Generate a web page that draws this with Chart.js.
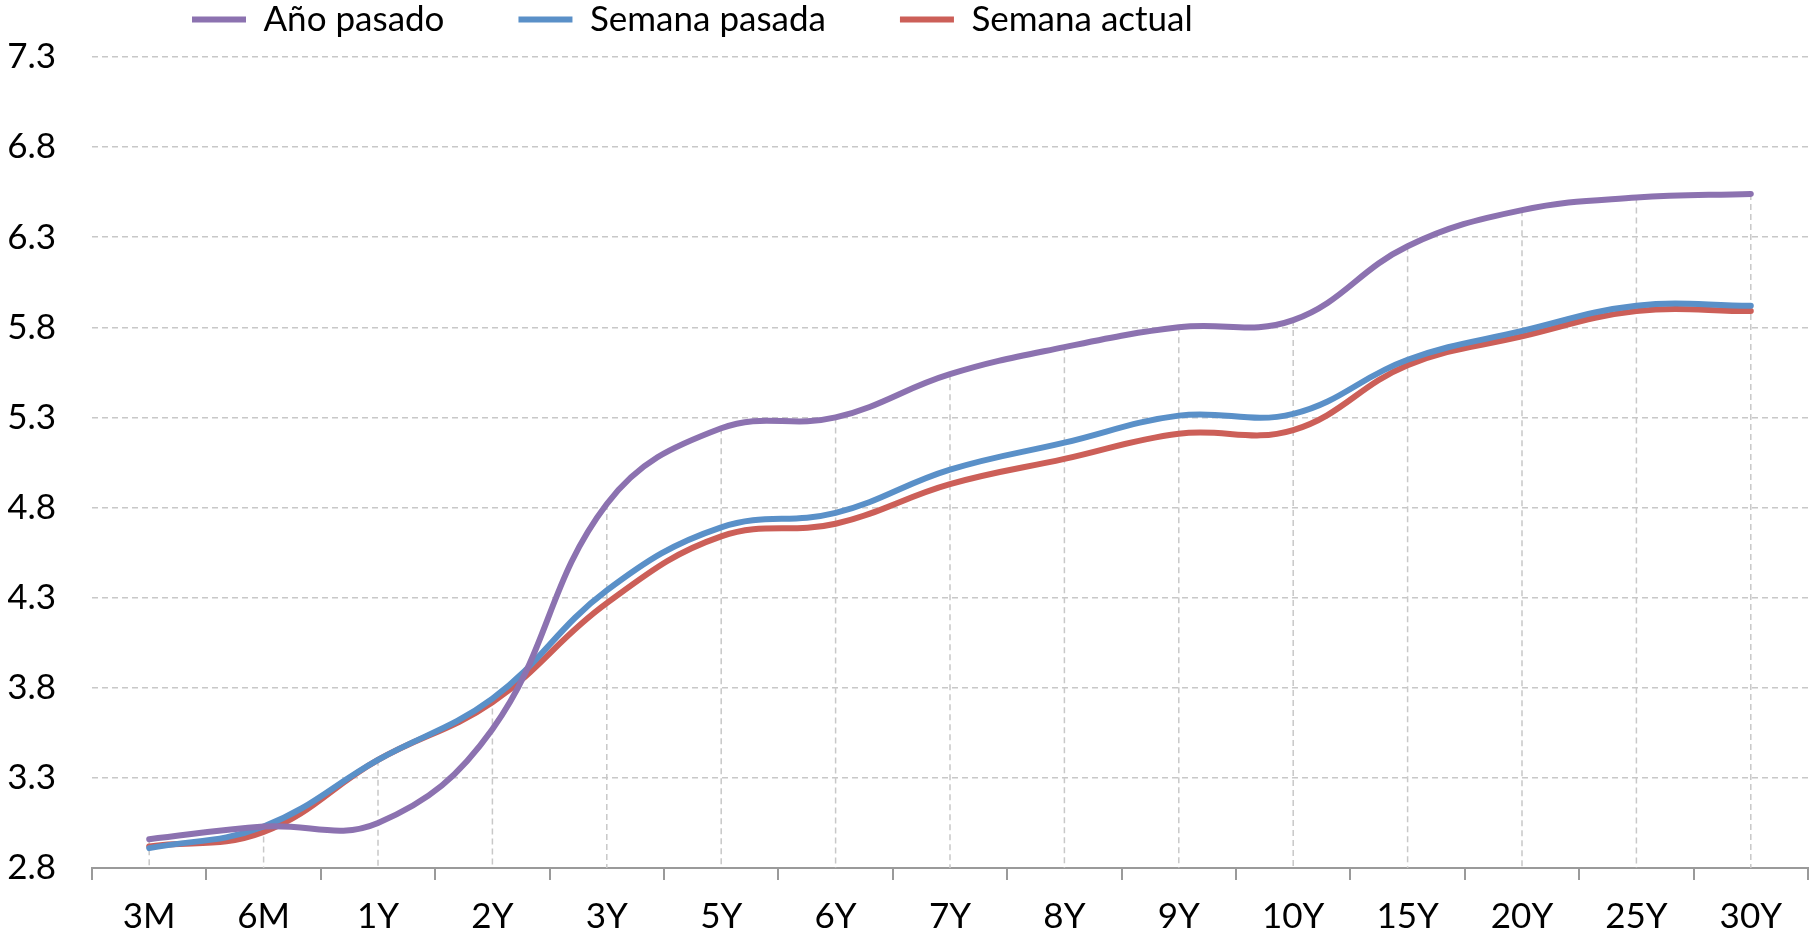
<!DOCTYPE html>
<html>
<head>
<meta charset="utf-8">
<script src="https://cdn.jsdelivr.net/npm/chart.js@4"></script>
<style>
  html, body { margin: 0; padding: 0; background: #fff; }
  #wrap { width: 1814px; height: 930px; position: relative; }
</style>
</head>
<body>
<div id="wrap"><canvas id="curveChart"></canvas></div>
<script>
const labels = ['3M', '6M', '1Y', '2Y', '3Y', '5Y', '6Y', '7Y', '8Y', '9Y', '10Y', '15Y', '20Y', '25Y', '30Y'];
const anoPasado = [2.96, 3.03, 3.05, 3.57, 4.82, 5.24, 5.30, 5.54, 5.69, 5.80, 5.84, 6.25, 6.45, 6.52, 6.54];
const semanaPasada = [2.91, 3.03, 3.40, 3.74, 4.34, 4.69, 4.77, 5.01, 5.16, 5.31, 5.32, 5.62, 5.78, 5.92, 5.92];
const semanaActual = [2.92, 3.00, 3.40, 3.72, 4.27, 4.64, 4.71, 4.93, 5.07, 5.21, 5.23, 5.59, 5.75, 5.89, 5.89];
const yTicks = [2.8, 3.3, 3.8, 4.3, 4.8, 5.3, 5.8, 6.3, 6.8, 7.3];

const FONT = "Lato, 'Liberation Sans', sans-serif";
const FONT_SIZE = 35;

// Excel style drop lines: from the highest point of each category down to the axis
const dropLines = {
  id: 'dropLines',
  beforeDatasetsDraw(chart) {
    const {ctx, scales: {x, y}} = chart;
    ctx.save();
    ctx.strokeStyle = '#c8c8c8';
    ctx.lineWidth = 1.5;
    ctx.setLineDash([6, 4]);
    labels.forEach((lab, i) => {
      const top = Math.max(...chart.data.datasets.map(d => d.data[i]));
      const px = x.getPixelForValue(i);
      ctx.beginPath();
      ctx.moveTo(px, y.getPixelForValue(top));
      ctx.lineTo(px, y.bottom);
      ctx.stroke();
    });
    ctx.restore();
  }
};

// put the legend row near the top left like the original
const legendShift = {
  id: 'legendShift',
  afterLayout(chart) {
    const lg = chart.legend;
    if (lg) {
      const pad = lg.options.labels.padding;
      lg.left = 140 - pad + 52;
      lg.top = 23 - pad - FONT_SIZE * 0.6;
    }
  }
};

const ctx = document.getElementById('curveChart');

new Chart(ctx, {
  type: 'line',
  data: {
    labels: labels,
    datasets: [{
      label: 'Año pasado',
      data: anoPasado,
      borderColor: '#8c72b0',
      backgroundColor: '#8c72b0',
      borderWidth: 6,
      borderCapStyle: 'round',
      pointRadius: 0,
      tension: 0.4
    }, {
      label: 'Semana pasada',
      data: semanaPasada,
      borderColor: '#5a90c8',
      backgroundColor: '#5a90c8',
      borderWidth: 6,
      borderCapStyle: 'round',
      pointRadius: 0,
      tension: 0.4
    }, {
      label: 'Semana actual',
      data: semanaActual,
      borderColor: '#cc5f58',
      backgroundColor: '#cc5f58',
      borderWidth: 6,
      borderCapStyle: 'round',
      pointRadius: 0,
      tension: 0.4
    }]
  },
  options: {
    responsive: true,
    maintainAspectRatio: false,
    animation: false,
    layout: {
      padding: { left: 8, right: 6, top: 4, bottom: 0 }
    },
    scales: {
      x: {
        offset: true,
        afterFit: axis => { axis.height = 62; },
        grid: {
          offset: true,
          drawOnChartArea: false,
          drawTicks: true,
          tickLength: 12,
          color: '#9a9a9a',
          lineWidth: 2
        },
        border: { display: true, color: '#9a9a9a', width: 2 },
        ticks: {
          color: '#000',
          padding: 16,
          font: { size: FONT_SIZE, family: FONT }
        }
      },
      y: {
        min: 2.8,
        max: 7.3,
        afterBuildTicks: axis => {
          axis.ticks = yTicks.map(v => ({ value: v }));
        },
        afterFit: axis => { axis.width = 84; },
        grid: {
          color: '#c8c8c8',
          lineWidth: 1.5,
          drawTicks: false
        },
        border: { display: false, dash: [6, 4] },
        ticks: {
          color: '#000',
          padding: 36,
          font: { size: FONT_SIZE, family: FONT },
          callback: v => Number(v).toFixed(1)
        }
      }
    },
    plugins: {
      legend: {
        display: true,
        position: 'top',
        align: 'start',
        maxHeight: 50,
        labels: {
          usePointStyle: true,
          pointStyle: 'line',
          pointStyleWidth: 54,
          padding: 74,
          color: '#000',
          font: { size: FONT_SIZE, family: FONT }
        }
      },
      tooltip: { enabled: false }
    }
  },
  plugins: [dropLines, legendShift]
});
</script>
</body>
</html>
